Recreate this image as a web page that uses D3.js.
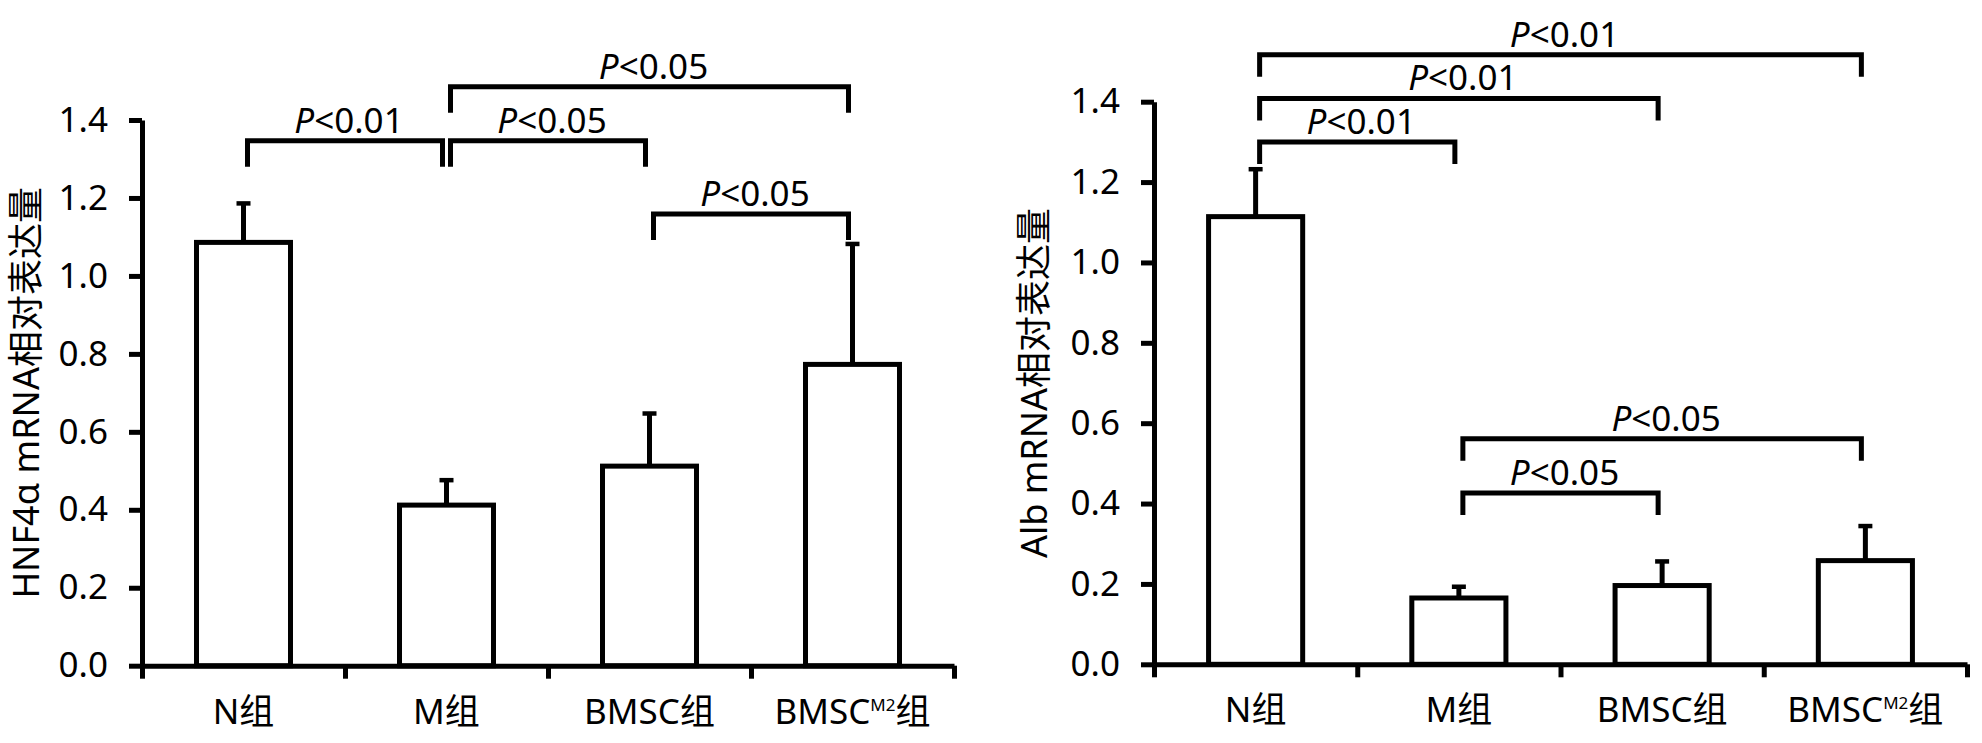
<!DOCTYPE html>
<html>
<head>
<meta charset="utf-8">
<script src="https://cdn.jsdelivr.net/npm/d3@7"></script>
<style>
  body { margin: 0; background: #fff; }
  svg { display: block; }
</style>
</head>
<body>
<script>
// groups on the x axis (label = base + superscript + suffix)
const groupBase = ["N", "M", "BMSC", "BMSC"];
const groupSup = ["", "", "", "M2"];
const groupSuffix = "组";

const yTicks = [0, 0.2, 0.4, 0.6, 0.8, 1.0, 1.2, 1.4];

// HNF4α panel
const hnf4aMean = [1.086, 0.412, 0.512, 0.773];
const hnf4aSD = [0.100, 0.064, 0.135, 0.309];
const hnf4aSig = [
  {from: 0, to: 1, level: 1.347, p: "<0.01"},
  {from: 1, to: 2, level: 1.347, p: "<0.05"},
  {from: 1, to: 3, level: 1.485, p: "<0.05"},
  {from: 2, to: 3, level: 1.159, p: "<0.05"}
];

// Alb panel
const albMean = [1.114, 0.165, 0.196, 0.258];
const albSD = [0.118, 0.028, 0.060, 0.086];
const albSig = [
  {from: 0, to: 3, level: 1.517, p: "<0.01"},
  {from: 0, to: 2, level: 1.408, p: "<0.01"},
  {from: 0, to: 1, level: 1.300, p: "<0.01"},
  {from: 1, to: 3, level: 0.561, p: "<0.05"},
  {from: 1, to: 2, level: 0.426, p: "<0.05"}
];

const font = "'Noto Sans', 'Noto Sans CJK SC', sans-serif";
const lw = 5;

const svg = d3.select("body").append("svg")
  .attr("width", 1982)
  .attr("height", 743)
  .style("font-family", font);

function drawPanel(opt) {
  const g = svg.append("g");

  const x = d3.scaleBand()
    .domain(d3.range(groupBase.length))
    .range([opt.left, opt.right])
    .padding(0);
  const xEdge = d3.scaleLinear()
    .domain([0, groupBase.length])
    .range([opt.left, opt.right]);
  const y = d3.scaleLinear()
    .domain([0, 1.4])
    .range([opt.bottom, opt.top]);

  const cx = i => x(i) + x.bandwidth() / 2;
  const barW = x.bandwidth() * 0.463;

  // bars
  g.selectAll(".bar")
    .data(opt.mean)
    .enter().append("rect")
    .attr("class", "bar")
    .attr("x", (d, i) => cx(i) - barW / 2)
    .attr("y", d => y(d))
    .attr("width", barW)
    .attr("height", d => y(0) - y(d))
    .attr("fill", "#fff")
    .attr("stroke", "#000")
    .attr("stroke-width", lw);

  // error bars (upper only)
  const err = g.selectAll(".err")
    .data(opt.mean.map((m, i) => ({m: m, sd: opt.sd[i], i: i})))
    .enter().append("g")
    .attr("class", "err");
  err.append("line")
    .attr("x1", d => cx(d.i)).attr("x2", d => cx(d.i))
    .attr("y1", d => y(d.m)).attr("y2", d => y(d.m + d.sd))
    .attr("stroke", "#000").attr("stroke-width", lw);
  err.append("line")
    .attr("x1", d => cx(d.i) - 7).attr("x2", d => cx(d.i) + 7)
    .attr("y1", d => y(d.m + d.sd)).attr("y2", d => y(d.m + d.sd))
    .attr("stroke", "#000").attr("stroke-width", 4.5);

  // y axis
  const yAxis = g.append("g")
    .attr("transform", "translate(" + opt.left + ",0)")
    .call(d3.axisLeft(y).tickValues(yTicks).tickFormat(d3.format(".1f"))
      .tickSize(13).tickSizeOuter(0).tickPadding(21));
  yAxis.selectAll("path, line").attr("stroke", "#000").attr("stroke-width", lw);
  yAxis.selectAll("text")
    .attr("fill", "#000")
    .style("font-size", "35px")
    .style("font-family", font);

  // x axis: ticks at group boundaries
  const xAxis = g.append("g")
    .attr("transform", "translate(0," + opt.bottom + ")")
    .call(d3.axisBottom(xEdge).tickValues(d3.range(groupBase.length + 1))
      .tickFormat("").tickSize(13).tickSizeOuter(0));
  xAxis.selectAll("path, line").attr("stroke", "#000").attr("stroke-width", lw);

  // group labels
  const lab = g.selectAll(".xlab")
    .data(groupBase)
    .enter().append("text")
    .attr("class", "xlab")
    .attr("x", (d, i) => cx(i))
    .attr("y", opt.bottom + 58)
    .attr("text-anchor", "middle")
    .style("font-size", "35px");
  lab.each(function(d, i) {
    const t = d3.select(this);
    t.append("tspan").text(d);
    if (groupSup[i]) {
      t.append("tspan").attr("dy", -13).style("font-size", "17px").text(groupSup[i]);
      t.append("tspan").attr("dy", 13).text(groupSuffix);
    } else {
      t.append("tspan").text(groupSuffix);
    }
  });

  // y title
  g.append("text")
    .attr("transform", "translate(" + opt.titleX + "," + ((opt.top + opt.bottom) / 2) + ") rotate(-90)")
    .attr("text-anchor", "middle")
    .attr("dominant-baseline", "central")
    .style("font-size", "36px")
    .text(opt.title);

  // significance brackets
  const leg = opt.leg;
  const inset = 4;
  const br = g.selectAll(".sig")
    .data(opt.sig)
    .enter().append("g")
    .attr("class", "sig");
  br.append("path")
    .attr("d", d => {
      const xa = cx(d.from) + inset, xb = cx(d.to) - inset, yl = y(d.level);
      return "M" + xa + "," + (yl + leg) + "V" + yl + "H" + xb + "V" + (yl + leg);
    })
    .attr("fill", "none")
    .attr("stroke", "#000")
    .attr("stroke-width", lw);
  const pt = br.append("text")
    .attr("x", d => (cx(d.from) + cx(d.to)) / 2 + 4)
    .attr("y", d => y(d.level) - 8)
    .attr("text-anchor", "middle")
    .style("font-size", "35px");
  pt.append("tspan").style("font-style", "italic").text("P");
  pt.append("tspan").text(d => d.p);
}

drawPanel({
  left: 142, right: 954, top: 120, bottom: 665.7,
  mean: hnf4aMean, sd: hnf4aSD, sig: hnf4aSig,
  title: "HNF4α mRNA相对表达量", titleX: 25, leg: 26
});

drawPanel({
  left: 1154, right: 1967, top: 101.7, bottom: 664.3,
  mean: albMean, sd: albSD, sig: albSig,
  title: "Alb mRNA相对表达量", titleX: 1033, leg: 22
});
</script>
</body>
</html>
